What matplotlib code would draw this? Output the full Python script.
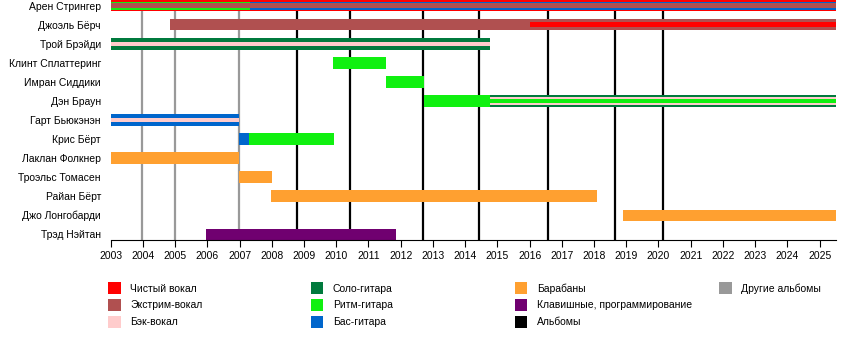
import matplotlib
matplotlib.use('Agg')
import matplotlib.pyplot as plt
from matplotlib.patches import Rectangle

plt.rcParams['font.family'] = ['Liberation Sans', 'DejaVu Sans']

# timeline range (years)
T_START = 2003.0
T_END = 2025.5

members = [
    'Арен Стрингер', 'Джоэль Бёрч', 'Трой Брэйди', 'Клинт Сплаттеринг',
    'Имран Сиддики', 'Дэн Браун', 'Гарт Бьюкэнэн', 'Крис Бёрт',
    'Лаклан Фолкнер', 'Троэльс Томасен', 'Райан Бёрт', 'Джо Лонгобарди',
    'Трэд Нэйтан',
]

roles = [
    'Чистый вокал', 'Экстрим-вокал', 'Бэк-вокал',
    'Соло-гитара', 'Ритм-гитара', 'Бас-гитара',
    'Барабаны', 'Клавишные, программирование', 'Альбомы',
    'Другие альбомы',
]

# one entry per bar segment; layer 0 = full bar, 1 = middle stripe, 2 = thin inner stripe
bar_member = [0, 0, 0, 0, 1, 1, 2, 2, 3, 4, 5, 5, 5, 5, 6, 6, 7, 7, 8, 9, 10, 11, 12]
bar_start = [2003.0, 2003.0, 2007.32, 2003.0, 2004.84, 2016.0, 2003.0, 2003.0,
             2009.9, 2011.55, 2012.72, 2014.76, 2014.76, 2014.76, 2003.0, 2003.0,
             2006.97, 2007.3, 2003.0, 2006.97, 2007.98, 2018.9, 2005.96]
bar_end = [2025.5, 2007.32, 2025.5, 2025.5, 2025.5, 2025.5, 2014.76, 2014.76,
           2011.55, 2012.72, 2014.76, 2025.5, 2025.5, 2025.5, 2006.97, 2006.97,
           2007.3, 2009.93, 2006.97, 2008.0, 2018.1, 2025.5, 2011.85]
bar_role = [0, 4, 5, 1, 1, 0, 3, 2, 4, 4, 4, 3, 2, 4, 5, 2, 5, 4, 6, 6, 6, 6, 7]
bar_layer = [0, 1, 1, 2, 0, 2, 0, 2, 0, 0, 0, 0, 1, 2, 0, 2, 0, 0, 0, 0, 0, 0, 0]

albums = [2008.78, 2010.43, 2012.68, 2014.43, 2016.57, 2018.64, 2020.13]
other_albums = [2003.98, 2004.99, 2006.98]

years = list(range(2003, 2026))

role_colors = ['#ff0000', '#b05050', '#ffcccc', '#007a3d', '#10f010',
               '#0066cc', '#ffa030', '#700070', '#000000', '#999999']
layer_height = [0.6, 0.4, 0.24]

fig = plt.figure(figsize=(8.5, 3.6), dpi=100)
ax = fig.add_axes([110.7 / 850, 120 / 360, 725 / 850, 240 / 360])

for x in other_albums:
    ax.axvline(x, color=role_colors[9], lw=1.6, zorder=1)
for x in albums:
    ax.axvline(x, color=role_colors[8], lw=1.6, zorder=1)

order = sorted(range(len(bar_member)), key=lambda i: bar_layer[i])
for i in order:
    ax.barh(bar_member[i], bar_end[i] - bar_start[i], left=bar_start[i],
            height=layer_height[bar_layer[i]], color=role_colors[bar_role[i]],
            linewidth=0, zorder=2 + bar_layer[i])

ax.set_xlim(T_START, T_END)
ax.set_ylim(len(members) - 1 + 0.3, -0.3)
ax.set_yticks(range(len(members)))
ax.set_yticklabels(members, fontsize=7.5)
ax.tick_params(axis='y', length=0, pad=7)
ax.set_xticks(years)
ax.set_xticklabels([str(y) for y in years], fontsize=7.5)
ax.tick_params(axis='x', length=5, width=0.8, pad=3, direction='out')
for side in ('left', 'right', 'top'):
    ax.spines[side].set_visible(False)
ax.spines['bottom'].set_linewidth(0.8)

# legend drawn in pixel coordinates
leg = fig.add_axes([0, 0, 1, 1])
leg.set_xlim(0, 850)
leg.set_ylim(360, 0)
leg.axis('off')
leg.patch.set_alpha(0)
col_x = [108.3, 311.0, 515.0, 719.3]
row_y = [282.3, 299.0, 315.7]
for k, name in enumerate(roles):
    cx = col_x[k // 3]
    ry = row_y[k % 3]
    leg.add_patch(Rectangle((cx, ry), 12.4, 12, color=role_colors[k], lw=0))
    leg.text(cx + 22, ry + 6.2, name, fontsize=7.5, va='center', ha='left')

fig.savefig('out.png', dpi=100)
